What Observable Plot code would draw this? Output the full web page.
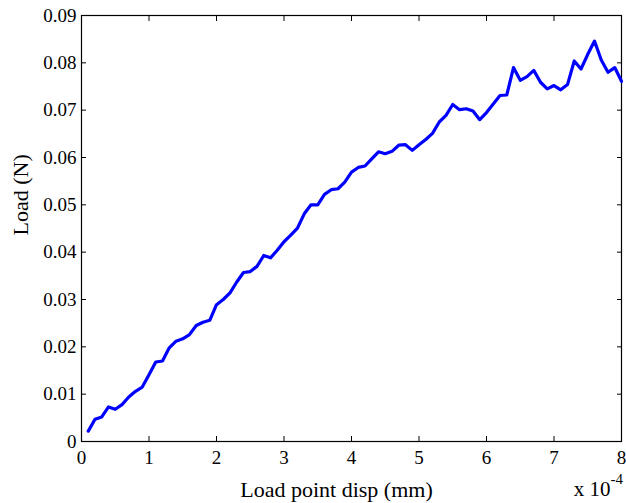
<!DOCTYPE html>
<html>
<head>
<meta charset="utf-8">
<script src="https://cdn.jsdelivr.net/npm/d3@7"></script>
<script src="https://cdn.jsdelivr.net/npm/@observablehq/plot@0.6"></script>
<style>
  html, body { margin: 0; padding: 0; background: #fff; }
  svg { display: block; }
  svg, svg text, svg g { font-family: "Liberation Serif", "Times New Roman", "DejaVu Serif", serif !important; }
</style>
</head>
<body>
<div id="chart"></div>
<script>
// Load point displacement, in units of 1e-4 mm
const dispX = [
  0.1, 0.2, 0.3, 0.4, 0.5, 0.6, 0.7, 0.8, 0.9, 1.0,
  1.1, 1.2, 1.3, 1.4, 1.5, 1.6, 1.7, 1.8, 1.9, 2.0,
  2.1, 2.2, 2.3, 2.4, 2.5, 2.6, 2.7, 2.8, 2.9, 3.0,
  3.1, 3.2, 3.3, 3.4, 3.5, 3.6, 3.7, 3.8, 3.9, 4.0,
  4.1, 4.2, 4.3, 4.4, 4.5, 4.6, 4.7, 4.8, 4.9, 5.0,
  5.1, 5.2, 5.3, 5.4, 5.5, 5.6, 5.7, 5.8, 5.9, 6.0,
  6.1, 6.2, 6.3, 6.4, 6.5, 6.6, 6.7, 6.8, 6.9, 7.0,
  7.1, 7.2, 7.3, 7.4, 7.5, 7.6, 7.7, 7.8, 7.9, 8.0
];
// Load (N)
const loadN = [
  0.0022, 0.0047, 0.0052, 0.0073, 0.0068, 0.0078, 0.0094, 0.0106, 0.0115, 0.0141,
  0.0168, 0.0170, 0.0198, 0.0212, 0.0217, 0.0226, 0.0245, 0.0252, 0.0256, 0.0289,
  0.0300, 0.0314, 0.0337, 0.0357, 0.0359, 0.0370, 0.0393, 0.0388, 0.0404, 0.0422,
  0.0436, 0.0451, 0.0481, 0.0500, 0.0500, 0.0522, 0.0532, 0.0534, 0.0548, 0.0569,
  0.0579, 0.0582, 0.0597, 0.0612, 0.0608, 0.0613, 0.0626, 0.0627, 0.0615, 0.0627,
  0.0638, 0.0651, 0.0675, 0.0689, 0.0712, 0.0701, 0.0703, 0.0698, 0.0680, 0.0695,
  0.0713, 0.0731, 0.0732, 0.0790, 0.0763, 0.0771, 0.0784, 0.0759, 0.0745, 0.0752,
  0.0743, 0.0754, 0.0804, 0.0787, 0.0818, 0.0846, 0.0806, 0.0780, 0.0790, 0.0761
];
const xTicks = [0, 1, 2, 3, 4, 5, 6, 7, 8];
const yTicks = [0, 0.01, 0.02, 0.03, 0.04, 0.05, 0.06, 0.07, 0.08, 0.09];
const xTickLabels = ["0", "1", "2", "3", "4", "5", "6", "7", "8"];
const yTickLabels = ["0", "0.01", "0.02", "0.03", "0.04", "0.05", "0.06", "0.07", "0.08", "0.09"];
const xLabel = "Load point disp (mm)";
const yLabel = "Load (N)";
const expBase = "x 10";
const expPower = "-4";

const data = dispX.map((x, i) => ({x, y: loadN[i]}));
const serif = "Liberation Serif, Times New Roman, DejaVu Serif, serif";

const chart = Plot.plot({
  width: 626,
  height: 503,
  marginLeft: 81,
  marginRight: 5,
  marginTop: 15,
  marginBottom: 62,
  style: {fontFamily: serif, background: "#fff", color: "#000"},
  x: {domain: [0, 8], label: null},
  y: {domain: [0, 0.09], label: null},
  marks: [
    Plot.frame({stroke: "#000", strokeWidth: 1.2}),
    // inward ticks on all four sides (no text)
    Plot.axisX({anchor: "bottom", ticks: xTicks, tickSize: -5, fill: "none", label: null, stroke: "#000"}),
    Plot.axisX({anchor: "top", ticks: xTicks, tickSize: -5, fill: "none", label: null, stroke: "#000"}),
    Plot.axisY({anchor: "left", ticks: yTicks, tickSize: -5, fill: "none", label: null, stroke: "#000"}),
    Plot.axisY({anchor: "right", ticks: yTicks, tickSize: -5, fill: "none", label: null, stroke: "#000"}),
    // tick labels (no tick lines)
    Plot.axisX({anchor: "bottom", ticks: xTicks, tickSize: 0, stroke: "none", tickPadding: 9, label: null,
      tickFormat: (d) => xTickLabels[xTicks.indexOf(d)], fontSize: 19, fontFamily: serif, fill: "#000"}),
    Plot.axisY({anchor: "left", ticks: yTicks, tickSize: 0, stroke: "none", tickPadding: 5, label: null,
      tickFormat: (d) => yTickLabels[yTicks.findIndex((t) => Math.abs(t - d) < 1e-9)], fontSize: 19, fontFamily: serif, fill: "#000"}),
    // the curve
    Plot.line(data, {x: "x", y: "y", stroke: "#0000ff", strokeWidth: 3.2, strokeLinejoin: "round", strokeLinecap: "round"}),
    // axis titles
    Plot.text([xLabel], {frameAnchor: "bottom", dx: -15, dy: 55, lineAnchor: "bottom", fontSize: 22, fontFamily: serif, fill: "#000"}),
    Plot.text([yLabel], {frameAnchor: "left", dx: -54, dy: 7, rotate: -90, lineAnchor: "bottom", fontSize: 22, fontFamily: serif, fill: "#000"}),
    Plot.text([expBase], {frameAnchor: "bottom-right", textAnchor: "end", dx: -11, dy: 54, lineAnchor: "bottom", fontSize: 21, fontFamily: serif, fill: "#000"}),
    Plot.text([expPower], {frameAnchor: "bottom-right", textAnchor: "start", dx: -11, dy: 42, lineAnchor: "bottom", fontSize: 15, fontFamily: serif, fill: "#000"})
  ]
});
document.getElementById("chart").appendChild(chart);
</script>
</body>
</html>
